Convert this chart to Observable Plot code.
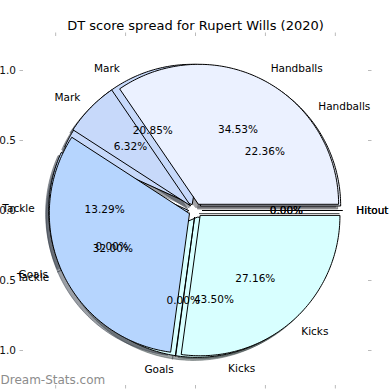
<!DOCTYPE html>
<html><head><meta charset="utf-8">
<script src="https://cdn.jsdelivr.net/npm/d3@7"></script>
<script src="https://cdn.jsdelivr.net/npm/@observablehq/plot@0.6"></script>
<style>html,body{margin:0;padding:0;background:#fff;}</style>
</head><body><div id="chart"></div>
<script>
const title = "DT score spread for Rupert Wills (2020)";
const watermark = "Dream-Stats.com";
const categories = ["Handballs", "Mark", "Tackle", "Goals", "Kicks", "Hitout"];
const frontValues = [34.53, 6.32, 32.00, 0.00, 27.16, 0.00];
const backValues = [22.36, 20.85, 13.29, 0.00, 43.50, 0.00];
const wedgeColors = ["#ebf1ff", "#c7d9fa", "#b6d5fe", "#e2f3ff", "#d8ffff", "#f4ffff"];
const xTicks = [-1.0, -0.5, 0.0, 0.5, 1.0];
const yTicks = [-1.0, -0.5, 0.0, 0.5, 1.0];

const explode = 0.05, labelDistance = 1.1, pctDistance = 0.6, shadowShift = -0.02 * 78 / 72;

function buildPie(values) {
  const total = d3.sum(values);
  let cum = 0;
  return values.map((v, i) => {
    const t1 = 360 * cum / total; cum += v; const t2 = 360 * cum / total;
    const tm = (t1 + t2) / 2 * Math.PI / 180;
    const cx = explode * Math.cos(tm), cy = explode * Math.sin(tm);
    const pts = [[cx, cy]];
    const n = Math.max(1, Math.ceil(t2 - t1));
    for (let k = 0; k <= n; k++) {
      const a = (t1 + (t2 - t1) * k / n) * Math.PI / 180;
      pts.push([cx + Math.cos(a), cy + Math.sin(a)]);
    }
    const c = d3.rgb(wedgeColors[i]);
    const shadow = d3.rgb(c.r * 0.3, c.g * 0.3, c.b * 0.3).formatHex();
    return {
      category: categories[i], color: wedgeColors[i], shadow, pts,
      lx: cx + labelDistance * Math.cos(tm), ly: cy + labelDistance * Math.sin(tm),
      px: cx + pctDistance * Math.cos(tm), py: cy + pctDistance * Math.sin(tm),
      pct: d3.format(".2f")(100 * v / total) + "%"
    };
  });
}

const back = buildPie(backValues);
const front = buildPie(frontValues);

const shadowMarks = [...back, ...front].map(w => Plot.line(w.pts, {
  x: d => d[0] + shadowShift, y: d => d[1] + shadowShift,
  curve: "linear-closed", fill: w.shadow, stroke: w.shadow,
  fillOpacity: 0.5, strokeOpacity: 0.5, strokeWidth: 1, strokeLinejoin: "miter"
}));
const wedgeMarks = [...back, ...front].map(w => Plot.line(w.pts, {
  x: d => d[0], y: d => d[1], curve: "linear-closed",
  fill: w.color, stroke: "black", strokeWidth: 1, strokeLinejoin: "miter"
}));
const labelMarks = [back, front].flatMap(pie => [
  Plot.text(pie.filter(w => w.lx > 0), {x: "lx", y: "ly", text: "category", textAnchor: "start", fill: "black"}),
  Plot.text(pie.filter(w => w.lx <= 0), {x: "lx", y: "ly", text: "category", textAnchor: "end", fill: "black"}),
  Plot.text(pie, {x: "px", y: "py", text: "pct", textAnchor: "middle", fill: "black"})
]);

const fmt = d3.format(".1f");
const plot = Plot.plot({
  width: 390, height: 390,
  marginLeft: 23, marginRight: 23, marginTop: 35, marginBottom: 5,
  x: {domain: [-1.23, 1.23]},
  y: {domain: [-1.25, 1.25]},
  style: {fontFamily: "'DejaVu Sans', sans-serif", fontSize: "10.5px", background: "white", overflow: "visible"},
  marks: [
    Plot.axisY({anchor: "left", ticks: yTicks, tickSize: 3.5, tickPadding: 4, stroke: "#bbbbbb", fill: "#111", tickFormat: fmt, label: null}),
    Plot.axisY({anchor: "right", ticks: yTicks, tickSize: 3.5, stroke: "#bbbbbb", tickFormat: () => "", label: null}),
    Plot.axisX({anchor: "bottom", ticks: xTicks, tickSize: 3.5, tickPadding: 4, stroke: "#bbbbbb", fill: "#111", tickFormat: fmt, label: null}),
    Plot.axisX({anchor: "top", ticks: xTicks, tickSize: 3.5, stroke: "#bbbbbb", tickFormat: () => "", label: null}),
    ...shadowMarks,
    ...wedgeMarks,
    ...labelMarks,
    Plot.text([title], {frameAnchor: "top", dy: -10, lineAnchor: "middle", fontSize: 13, fill: "black"}),
    Plot.text([watermark], {frameAnchor: "bottom-left", dx: -23, dy: -5, textAnchor: "start", lineAnchor: "middle", fontSize: 12, fill: "#8c8c8c"})
  ]
});
document.getElementById("chart").append(plot);
</script>
</body></html>
